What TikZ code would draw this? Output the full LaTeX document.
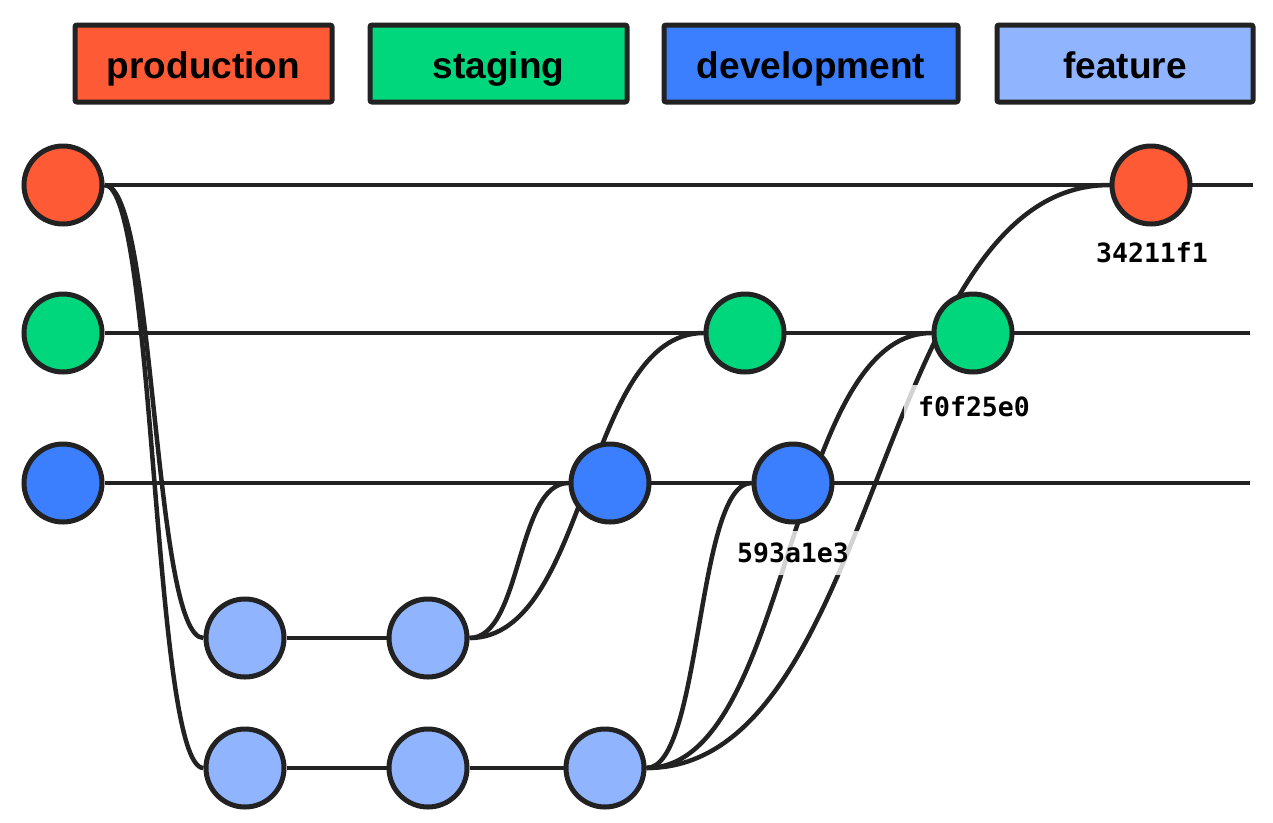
\documentclass[tikz,border=0pt]{standalone}
\usepackage{fontspec}
\setmainfont{Liberation Sans}
\newfontfamily\monofnt{DejaVu Sans Mono}
\usetikzlibrary{backgrounds}
\definecolor{cprod}{HTML}{FF5A36}
\definecolor{cstag}{HTML}{00D67B}
\definecolor{cdev}{HTML}{3B7FFF}
\definecolor{cfeat}{HTML}{91B4FF}
\definecolor{ink}{HTML}{222222}
\tikzset{
  legendbox/.style={draw=ink, line width=5pt, rounded corners=2pt, minimum height=77pt,
    anchor=north west, font=\fontsize{37}{40}\selectfont\bfseries, text=black, inner sep=0pt,
    text height=30pt, text depth=0pt},
  commit/.style={circle, draw=ink, line width=5pt, minimum size=78pt, inner sep=0pt},
  branchline/.style={draw=ink, line width=4.5pt},
  hashlabel/.style={fill=white, fill opacity=0.8, text opacity=1, text=black,
    font=\monofnt\fontsize{26.5}{29}\selectfont\bfseries, inner xsep=14pt, minimum height=44pt}
}
\begin{document}
\begin{tikzpicture}[x=1pt,y=-1pt]
\useasboundingbox (0,0) rectangle (1273,822);
% legend
\node[legendbox, fill=cprod, minimum width=257pt] (lprod) at (72.5,22.5) {production};
\node[legendbox, fill=cstag, minimum width=257pt] (lstag) at (367.5,22.5) {staging};
\node[legendbox, fill=cdev, minimum width=294pt] (ldev) at (661.5,22.5) {development};
\node[legendbox, fill=cfeat, minimum width=256pt] (lfeat) at (994.5,22.5) {feature};
% commits
\node[commit, fill=cprod] (o1) at (63,185) {};
\node[commit, fill=cstag] (g0) at (63,333) {};
\node[commit, fill=cdev] (b0) at (63,483) {};
\node[commit, fill=cfeat] (f1) at (245,638) {};
\node[commit, fill=cfeat] (f2) at (428,638) {};
\node[commit, fill=cfeat] (f3) at (245,768) {};
\node[commit, fill=cfeat] (f4) at (428,768) {};
\node[commit, fill=cfeat] (f5) at (605,768) {};
\node[commit, fill=cdev] (b1) at (610,483) {};
\node[commit, fill=cdev] (b2) at (793,483) {};
\node[commit, fill=cstag] (g1) at (745,333) {};
\node[commit, fill=cstag] (g2) at (973,333) {};
\node[commit, fill=cprod] (o2) at (1151,185) {};
\coordinate (pend) at (1253,185);
\coordinate (send) at (1250,333);
\coordinate (dend) at (1250,483);
% labels
\node[hashlabel] (h1) at (793,553) {593a1e3};
\node[hashlabel] (h2) at (974,407) {f0f25e0};
\node[hashlabel] (h3) at (1152,253) {34211f1};
\begin{pgfonlayer}{background}
\draw[branchline] (o1) -- (pend);
\draw[branchline] (g0) -- (send);
\draw[branchline] (b0) -- (dend);
\draw[branchline] (f1) -- (f2);
\draw[branchline] (f3) -- (f4) -- (f5);
\draw[branchline] (o1.east) .. controls +(51,0) and +(-51,0) .. (f1.west);
\draw[branchline] (o1.east) .. controls +(51,0) and +(-51,0) .. (f3.west);
\draw[branchline] (f2.east) .. controls +(52.5,0) and +(-52.5,0) .. (b1.west);
\draw[branchline] (f2.east) .. controls +(120,0) and +(-120,0) .. (g1.west);
\draw[branchline] (f5.east) .. controls +(55.5,0) and +(-55.5,0) .. (b2.west);
\draw[branchline] (f5.east) .. controls +(145.5,0) and +(-145.5,0) .. (g2.west);
\draw[branchline] (f5.east) .. controls +(234.5,0) and +(-234.5,0) .. (o2.west);
\end{pgfonlayer}
\end{tikzpicture}
\end{document}
